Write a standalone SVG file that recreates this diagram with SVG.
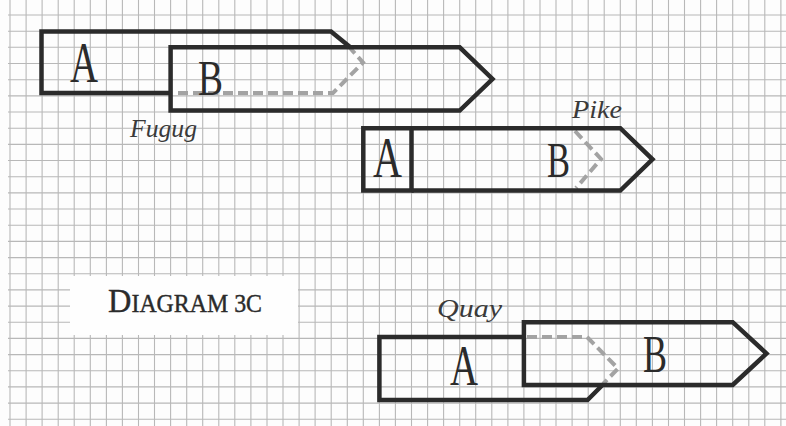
<svg xmlns="http://www.w3.org/2000/svg" width="786" height="426" viewBox="0 0 786 426">
<style>
.grid{fill:none;stroke:#b8b8b8;stroke-width:1.1}
.box{fill:none;stroke:#2b2b2b;stroke-width:4.5;stroke-linejoin:miter}
.hid{fill:none;stroke:#a3a3a3;stroke-width:4;stroke-dasharray:10 5}
.let{font-family:"Liberation Serif","DejaVu Serif",serif;fill:#2b2b2b}
.name{font-family:"Liberation Serif","DejaVu Serif",serif;font-style:italic;fill:#3a3a3a}
.cap{font-family:"Liberation Serif","DejaVu Serif",serif;fill:#2b2b2b;stroke:#2b2b2b;stroke-width:0.4}
</style>
<rect x="0" y="0" width="786" height="426" fill="#fdfdfd"/>
<path class="grid" d="M10 0V426M26.1 0V426M42.1 0V426M58.2 0V426M74.2 0V426M90.3 0V426M106.4 0V426M122.4 0V426M138.5 0V426M154.5 0V426M170.6 0V426M186.7 0V426M202.7 0V426M218.8 0V426M234.8 0V426M250.9 0V426M267 0V426M283 0V426M299.1 0V426M315.1 0V426M331.2 0V426M347.3 0V426M363.3 0V426M379.4 0V426M395.4 0V426M411.5 0V426M427.6 0V426M443.6 0V426M459.7 0V426M475.7 0V426M491.8 0V426M507.9 0V426M523.9 0V426M540 0V426M556 0V426M572.1 0V426M588.2 0V426M604.2 0V426M620.3 0V426M636.3 0V426M652.4 0V426M668.5 0V426M684.5 0V426M700.6 0V426M716.6 0V426M732.7 0V426M748.8 0V426M764.8 0V426M780.9 0V426M8 15H786M8 31.2H786M8 47.3H786M8 63.5H786M8 79.7H786M8 95.9H786M8 112H786M8 128.2H786M8 144.4H786M8 160.5H786M8 176.7H786M8 192.9H786M8 209H786M8 225.2H786M8 241.4H786M8 257.6H786M8 273.7H786M8 289.9H786M8 306.1H786M8 322.2H786M8 338.4H786M8 354.6H786M8 370.7H786M8 386.9H786M8 403.1H786M8 419.3H786"/>

<g id="label">
<rect x="70" y="276" width="228" height="59" fill="#fefefe"/>
<text class="cap" x="108" y="312" textLength="154" lengthAdjust="spacingAndGlyphs"><tspan font-size="34">D</tspan><tspan font-size="25">IAGRAM 3C</tspan></text>
</g>

<g id="connectors">
<path class="hid" d="M178 93H333L363 62.5L350 48"/>
<path class="hid" d="M575 131L601 159L576 188"/>
<path class="hid" d="M527 337H587L618 368.5L603 384"/>
</g>

<g id="fugug">
<g id="fugug-a">
<path class="box" d="M350 47L331 31.5H41.5V93H170"/>
<text class="let" x="70" y="82" font-size="56" textLength="28" lengthAdjust="spacingAndGlyphs">A</text>
</g>
<g id="fugug-b">
<path class="box" d="M170.6 47.3H459.7L492.5 79L459.7 110.5H170.6Z"/>
<text class="let" x="198" y="95" font-size="50" textLength="25" lengthAdjust="spacingAndGlyphs">B</text>
</g>
<text class="name" x="130" y="137" font-size="25" textLength="67" lengthAdjust="spacingAndGlyphs">Fugug</text>
</g>

<g id="pike">
<g id="pike-a">
<path class="box" d="M411.5 128.2H363.3V190.5H411.5Z"/>
<text class="let" x="373" y="177" font-size="56" textLength="29" lengthAdjust="spacingAndGlyphs">A</text>
</g>
<g id="pike-b">
<path class="box" d="M411.5 128.2H620.3L652.5 159.3L620.3 190.5H411.5"/>
<text class="let" x="547" y="177" font-size="51" textLength="23" lengthAdjust="spacingAndGlyphs">B</text>
</g>
<text class="name" x="572" y="118" font-size="26" textLength="50" lengthAdjust="spacingAndGlyphs">Pike</text>
</g>

<g id="quay">
<g id="quay-a">
<path class="box" d="M523.9 337H379.4V400H587.5L602.5 385"/>
<text class="let" x="450" y="385" font-size="56" textLength="28" lengthAdjust="spacingAndGlyphs">A</text>
</g>
<g id="quay-b">
<path class="box" d="M523.9 322.2H732.7L766.5 353.5L732.7 385H523.9Z"/>
<text class="let" x="643" y="372" font-size="53" textLength="24" lengthAdjust="spacingAndGlyphs">B</text>
</g>
<text class="name" x="437" y="317" font-size="26" textLength="65" lengthAdjust="spacingAndGlyphs">Quay</text>
</g>
</svg>
